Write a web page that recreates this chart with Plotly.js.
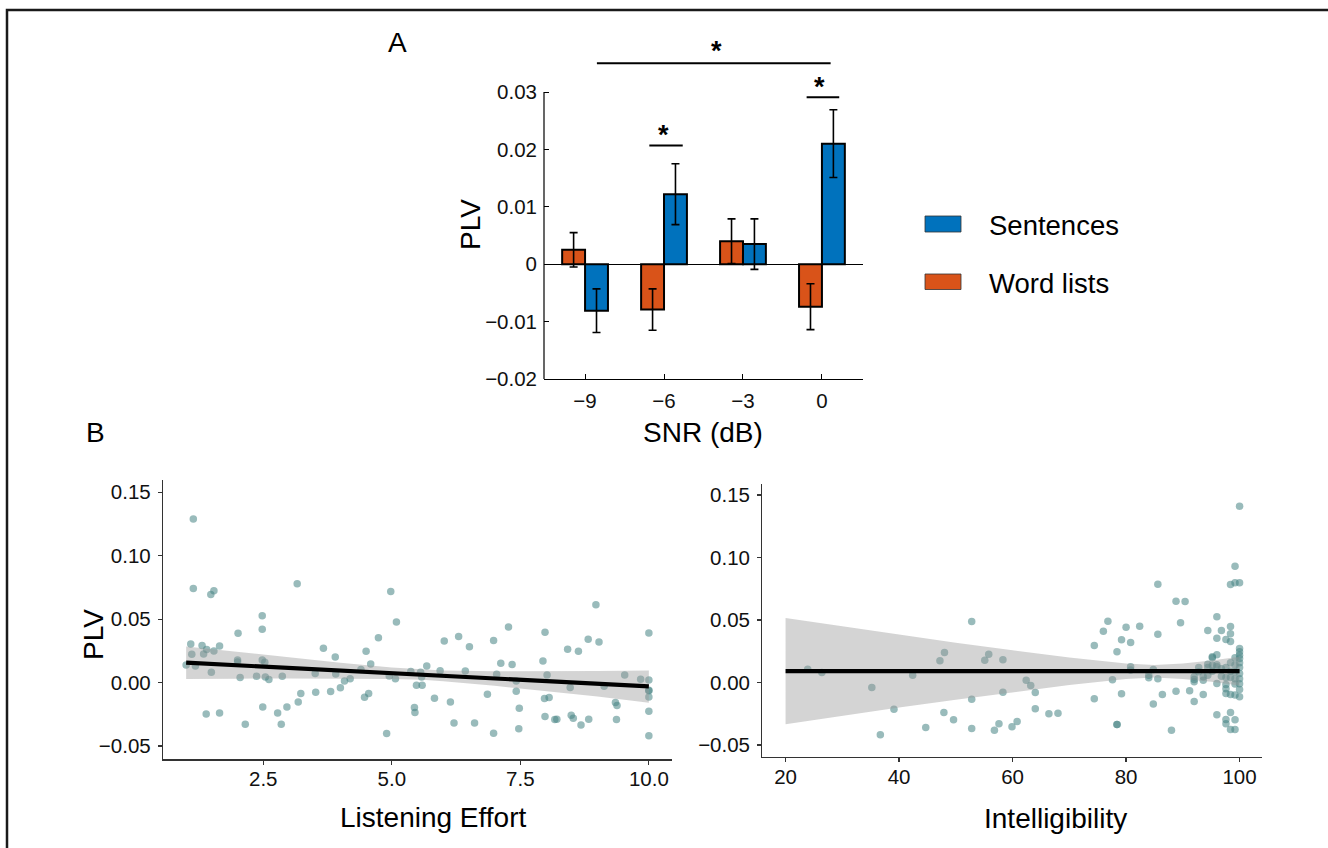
<!DOCTYPE html>
<html>
<head>
<meta charset="utf-8">
<script src="https://cdn.plot.ly/plotly-3.0.1.min.js"></script>
<style>
html,body{margin:0;padding:0;background:#fff;}
#chart{width:1328px;height:848px;}
</style>
</head>
<body>
<div id="chart"></div>
<script>
// ---------- Panel A data ----------
const snrLabels = ['−9', '−6', '−3', '0'];
const snrPos = [1, 2, 3, 4];
const wordListsPLV = [0.0025, -0.0079, 0.0040, -0.0074];
const wordListsErr = [0.0030, 0.0036, 0.0039, 0.0040];
const sentencesPLV = [-0.0081, 0.0122, 0.0035, 0.0210];
const sentencesErr = [0.0038, 0.0053, 0.0044, 0.0059];
const yTickValsA = [-0.02, -0.01, 0, 0.01, 0.02, 0.03];
const yTickTextA = ['−0.02', '−0.01', '0', '0.01', '0.02', '0.03'];

// ---------- Panel B (left) data: Listening Effort ----------
const effortX = [1.14,1.14,1.48,1.54,3.16,2.48,2.48,2.01,1.09,1.31,1.65,1.40,1.54,1.11,1.34,1.00,1.18,2.00,2.00,2.48,
2.53,1.49,2.05,2.37,2.54,2.61,2.87,3.23,3.18,3.52,3.51,2.49,2.96,2.78,1.39,1.65,2.15,2.85,3.67,3.90,
4.50,4.59,4.74,3.91,4.40,4.19,4.08,4.00,3.81,4.55,4.47,4.98,5.09,4.95,5.07,4.90,5.37,5.56,5.48,5.59,
5.58,5.68,5.94,6.02,6.30,6.51,6.43,5.83,6.14,5.44,5.45,6.21,6.61,6.98,7.27,7.12,7.34,7.04,6.86,7.42,
7.42,7.48,7.47,6.98,7.98,7.94,8.02,7.97,8.06,7.98,8.17,8.21,8.42,8.63,8.47,8.49,8.53,8.68,8.83,8.82,
9.03,8.97,9.13,9.35,9.38,9.37,9.53,9.84,10,10,10,10,10,10,10];
const effortY = [0.129,0.0742,0.0695,0.0724,0.0779,0.0527,0.042,0.0388,0.0304,0.0293,0.0288,0.026,0.0249,0.0223,0.0225,0.0139,0.0131,0.0178,0.0162,0.0178,
0.016,0.0081,0.0039,0.005,0.0044,0.0024,0.005,-0.0087,-0.0153,-0.0076,0.0071,-0.0192,-0.0192,-0.0239,-0.0247,-0.0239,-0.0328,-0.0328,0.027,0.0202,
0.0246,0.0146,0.0354,0.0068,0.0102,0.0031,0.0013,-0.004,-0.0071,-0.0087,-0.0116,0.0718,0.0477,0.0052,0.0031,-0.0401,0.0087,0.0081,-0.0021,-0.0021,
0.0044,0.0131,0.0094,0.0327,0.0364,0.0283,0.0091,-0.0124,-0.0153,-0.0197,-0.0236,-0.0318,-0.0318,0.0331,0.0438,0.0152,0.0142,0.0065,-0.0092,-0.0068,
0.0013,-0.0202,-0.0365,-0.0399,0.0396,0.017,0.006,-0.0126,-0.0118,-0.0268,-0.0291,-0.0289,0.0262,0.0246,-0.0039,-0.0257,-0.0281,-0.0334,-0.0289,0.0341,
0.032,0.0614,-0.0029,-0.0157,-0.0181,-0.0291,0.006,0.0026,0.039,0.002,-0.0061,-0.0113,-0.0226,-0.042,-0.0065];
// fitted line and confidence band
const effortFitX = [1, 2, 3, 4, 5, 5.6, 6, 7, 8, 9, 10];
const effortFitY = [0.0157, 0.0136, 0.0115, 0.0095, 0.0074, 0.0062, 0.0053, 0.0032, 0.0011, -0.0009, -0.0030];
const effortUpper = [0.0285, 0.0241, 0.0198, 0.0157, 0.0119, 0.0102, 0.0095, 0.0090, 0.0089, 0.0091, 0.0095];
const effortLower = [0.0029, 0.0031, 0.0032, 0.0033, 0.0029, 0.0022, 0.0011, -0.0026, -0.0067, -0.0109, -0.0160];

// ---------- Panel B (right) data: Intelligibility ----------
const intelX = [23.9,26.4,35.2,36.7,39.1,42.4,44.7,47.2,48.0,47.9,49.6,52.8,52.8,52.8,55.1,55.8,58.3,58.3,56.8,57.6,
59.9,60.8,62.4,63.2,64.0,64.0,66.4,68.0,74.4,74.4,76.0,76.8,77.6,78.4,78.4,78.4,79.2,79.2,80.0,80.8,
80.8,80.8,82.4,84.0,84.0,84.8,84.8,85.6,85.6,85.6,86.4,88.0,88.8,90.4,89.6,88.8,91.2,92.0,92.0,92.0,
92.0,92.8,93.6,93.6,93.6,94.4,94.4,95.2,95.2,96.0,96.0,96.0,96.0,96.0,96.0,96.8,96.8,97.6,97.6,97.6,
97.6,97.6,97.6,97.6,98.4,98.4,98.4,98.4,98.4,98.4,98.4,98.4,98.4,99.2,99.2,99.2,99.2,99.2,99.2,99.2,
99.2,99.2,100,100,100,100,100,100,100,100,100,100,100,94.4,95.2,96.8,97.6,98.4,99.2,100,100,95.2,
96.0,92.8,94.4];
const intelY = [0.0106,0.008,-0.004,-0.0419,-0.0214,0.0058,-0.036,0.0173,0.024,-0.024,-0.0299,0.0488,-0.0134,-0.0368,0.0178,0.0226,0.0181,-0.0078,-0.0382,-0.0331,
-0.0355,-0.0312,0.0018,-0.0024,-0.008,-0.0211,-0.0251,-0.0246,0.0296,-0.0131,0.041,0.049,0.0021,0.0245,-0.0336,-0.0336,0.0341,-0.0091,0.0442,0.032,
0.0125,0.010,0.045,0.0058,0.0037,0.0104,-0.0173,0.0786,0.0386,0.003,-0.0096,-0.0382,0.065,0.0648,0.0477,-0.007,-0.0067,0.0045,0.0024,0.0005,
-0.0152,0.0085,0.0018,-0.0096,0.0045,0.0416,0.0058,0.0197,0.0138,0.0525,0.0354,0.0221,0.0141,-0.0008,-0.0259,0.0416,0.0109,0.0344,0.004,-0.0016,
-0.0051,-0.0088,-0.0296,-0.0331,0.0784,0.0448,0.0389,0.0328,0.0157,0.004,-0.0096,-0.024,-0.0376,0.093,0.0797,0.0197,0.0085,0.003,-0.0013,-0.0101,
-0.0299,-0.0376,0.141,0.0797,0.0272,0.0245,0.0218,0.0192,0.0157,0.012,0.0072,-0.0056,-0.0115,0.012,0.009,0.005,0.012,0.009,0.014,0.003,-0.001,0.0205,
0.0125,0.012,0.0145];
const intelFitX = [20, 30, 40, 50, 60, 70, 80, 85, 90, 95, 100];
const intelFitY = [0.009, 0.009, 0.009, 0.009, 0.009, 0.009, 0.009, 0.009, 0.009, 0.009, 0.009];
const intelUpper = [0.0515, 0.0448, 0.0380, 0.0318, 0.0257, 0.0200, 0.0152, 0.0140, 0.0152, 0.0175, 0.0205];
const intelLower = [-0.0335, -0.0268, -0.0200, -0.0138, -0.0077, -0.0020, 0.0028, 0.0040, 0.0028, 0.0005, -0.0025];

// ---------- helpers ----------
const W = 1328, H = 848;
const fx = p => p / W;
const fy = p => 1 - p / H;
const FONT = '"Liberation Sans", Arial, Helvetica, sans-serif';
const BLUE = '#0072BD', ORANGE = '#D95319';
const PTCOL = 'rgba(70,132,132,0.55)';
const BAND = 'rgba(153,153,153,0.42)';

function band(xs, up, lo, xa, ya) {
  return {
    type: 'scatter', mode: 'lines', x: xs.concat(xs.slice().reverse()),
    y: up.concat(lo.slice().reverse()), fill: 'toself', fillcolor: BAND,
    line: {width: 0}, hoverinfo: 'skip', showlegend: false, xaxis: xa, yaxis: ya
  };
}

const traces = [
  {type: 'bar', name: 'Word lists', x: snrPos, y: wordListsPLV,
   marker: {color: ORANGE, line: {color: '#000', width: 2}},
   error_y: {type: 'data', array: wordListsErr, visible: true, color: '#000', thickness: 1.6, width: 4},
   xaxis: 'x', yaxis: 'y', showlegend: false},
  {type: 'bar', name: 'Sentences', x: snrPos, y: sentencesPLV,
   marker: {color: BLUE, line: {color: '#000', width: 2}},
   error_y: {type: 'data', array: sentencesErr, visible: true, color: '#000', thickness: 1.6, width: 4},
   xaxis: 'x', yaxis: 'y', showlegend: false},
  {type: 'scatter', mode: 'markers', x: effortX, y: effortY,
   marker: {color: PTCOL, size: 7.5}, xaxis: 'x2', yaxis: 'y2', showlegend: false},
  band(effortFitX, effortUpper, effortLower, 'x2', 'y2'),
  {type: 'scatter', mode: 'lines', x: effortFitX, y: effortFitY,
   line: {color: '#000', width: 4.2}, xaxis: 'x2', yaxis: 'y2', showlegend: false},
  {type: 'scatter', mode: 'markers', x: intelX, y: intelY,
   marker: {color: PTCOL, size: 7.5}, xaxis: 'x3', yaxis: 'y3', showlegend: false},
  band(intelFitX, intelUpper, intelLower, 'x3', 'y3'),
  {type: 'scatter', mode: 'lines', x: intelFitX, y: intelFitY,
   line: {color: '#000', width: 4.2}, xaxis: 'x3', yaxis: 'y3', showlegend: false}
];

const tickFont = {family: FONT, size: 20.5, color: '#111'};
const axB = {showgrid: false, zeroline: false, showline: true, linecolor: '#333', linewidth: 1.2,
  ticks: 'outside', ticklen: 4, tickwidth: 1.2, tickcolor: '#333', tickfont: tickFont, fixedrange: true};

const layout = {
  width: W, height: H,
  margin: {l: 0, r: 0, t: 0, b: 0},
  paper_bgcolor: '#fff', plot_bgcolor: 'rgba(0,0,0,0)',
  font: {family: FONT, color: '#000'},
  barmode: 'group', bargap: 0.42, bargroupgap: 0,
  showlegend: false,
  xaxis: {domain: [fx(544), fx(863)], range: [0.48, 4.52], tickvals: snrPos, ticktext: snrLabels,
    showgrid: false, zeroline: false, showline: true, linecolor: '#000', linewidth: 1.2,
    ticks: 'inside', ticklen: 5, tickcolor: '#000', tickfont: tickFont, ticklabelstandoff: 3,
    anchor: 'y', fixedrange: true},
  yaxis: {domain: [fy(379), fy(34.6)], range: [-0.02, 0.04], tickvals: yTickValsA, ticktext: yTickTextA,
    showgrid: false, zeroline: true, zerolinecolor: '#000', zerolinewidth: 1, showline: false,
    ticks: 'inside', ticklen: 5, tickcolor: '#000', tickfont: tickFont, ticklabelstandoff: 6,
    anchor: 'x', fixedrange: true},
  xaxis2: Object.assign({}, axB, {domain: [fx(163), fx(672)], range: [0.55, 10.45], tick0: 0, dtick: 2.5, tickformat: '.1f', anchor: 'y2', ticklabelstandoff: -3}),
  yaxis2: Object.assign({}, axB, {domain: [fy(759.3), fy(480)], range: [-0.0605, 0.1597], tick0: 0, dtick: 0.05, tickformat: '.2f', anchor: 'x2', ticklabelstandoff: 3}),
  xaxis3: Object.assign({}, axB, {domain: [fx(762.3), fx(1261.7)], range: [15.9, 103.9], tick0: 0, dtick: 20, anchor: 'y3', ticklabelstandoff: -3}),
  yaxis3: Object.assign({}, axB, {domain: [fy(756.7), fy(484)], range: [-0.0594, 0.1588], tick0: 0, dtick: 0.05, tickformat: '.2f', anchor: 'x3', ticklabelstandoff: 3}),
  shapes: [
    // outer frame (top and left)
    {type: 'path', xref: 'paper', yref: 'paper', path: `M ${fx(7)} 0 L ${fx(7)} ${fy(10)} L 1 ${fy(10)}`,
     line: {color: '#1a1a1a', width: 2.5}},
    // panel A y axis line
    {type: 'line', xref: 'paper', yref: 'y', x0: fx(544), x1: fx(544), y0: -0.02, y1: 0.03, line: {color: '#000', width: 1.2}},
    // significance brackets
    {type: 'line', xref: 'x', yref: 'y', x0: 1.15, x1: 4.11, y0: 0.035, y1: 0.035, line: {color: '#000', width: 2}},
    {type: 'line', xref: 'x', yref: 'y', x0: 1.814, x1: 2.237, y0: 0.0207, y1: 0.0207, line: {color: '#000', width: 2}},
    {type: 'line', xref: 'x', yref: 'y', x0: 3.806, x1: 4.219, y0: 0.0291, y1: 0.0291, line: {color: '#000', width: 2}},
    // legend swatches
    {type: 'rect', xref: 'paper', yref: 'paper', x0: fx(925), x1: fx(961), y0: fy(232), y1: fy(216),
     fillcolor: BLUE, line: {color: '#333', width: 0.8}},
    {type: 'rect', xref: 'paper', yref: 'paper', x0: fx(925), x1: fx(961), y0: fy(289.5), y1: fy(274),
     fillcolor: ORANGE, line: {color: '#333', width: 0.8}}
  ],
  annotations: [
    {text: 'A', xref: 'paper', yref: 'paper', x: fx(397), y: fy(43), showarrow: false, font: {size: 28}, xanchor: 'center', yanchor: 'middle'},
    {text: 'B', xref: 'paper', yref: 'paper', x: fx(95), y: fy(433), showarrow: false, font: {size: 28}, xanchor: 'center', yanchor: 'middle'},
    {text: 'PLV', xref: 'paper', yref: 'paper', x: fx(470), y: fy(225), showarrow: false, font: {size: 28}, textangle: -90, xanchor: 'center', yanchor: 'middle'},
    {text: 'SNR (dB)', xref: 'paper', yref: 'paper', x: fx(703), y: fy(433), showarrow: false, font: {size: 28}, xanchor: 'center', yanchor: 'middle'},
    {text: 'PLV', xref: 'paper', yref: 'paper', x: fx(93), y: fy(635), showarrow: false, font: {size: 28}, textangle: -90, xanchor: 'center', yanchor: 'middle'},
    {text: 'Listening Effort', xref: 'paper', yref: 'paper', x: fx(433), y: fy(817), showarrow: false, font: {size: 28}, xanchor: 'center', yanchor: 'middle'},
    {text: 'Intelligibility', xref: 'paper', yref: 'paper', x: fx(1055), y: fy(818), showarrow: false, font: {size: 28}, xanchor: 'center', yanchor: 'middle'},
    {text: 'Sentences', xref: 'paper', yref: 'paper', x: fx(987), y: fy(225), showarrow: false, font: {size: 27.5}, xanchor: 'left', yanchor: 'middle'},
    {text: 'Word lists', xref: 'paper', yref: 'paper', x: fx(987), y: fy(283), showarrow: false, font: {size: 27.5}, xanchor: 'left', yanchor: 'middle'},
    {text: '<b>*</b>', xref: 'paper', yref: 'paper', x: fx(716), y: fy(51), showarrow: false, font: {size: 27}, xanchor: 'center', yanchor: 'middle'},
    {text: '<b>*</b>', xref: 'paper', yref: 'paper', x: fx(663), y: fy(134.5), showarrow: false, font: {size: 27}, xanchor: 'center', yanchor: 'middle'},
    {text: '<b>*</b>', xref: 'paper', yref: 'paper', x: fx(819.5), y: fy(86.5), showarrow: false, font: {size: 27}, xanchor: 'center', yanchor: 'middle'}
  ]
};

Plotly.newPlot('chart', traces, layout, {staticPlot: true, displayModeBar: false});
</script>
</body>
</html>
